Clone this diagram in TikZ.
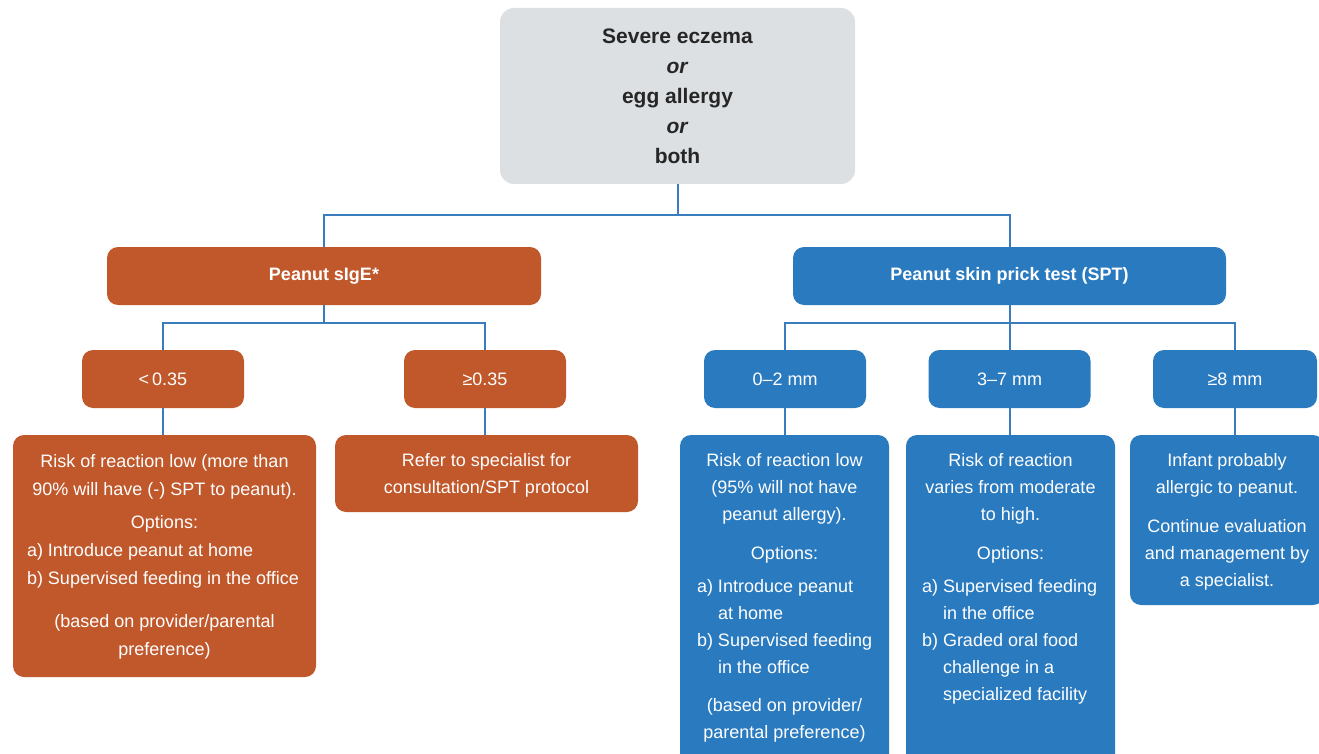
\documentclass[tikz,border=0pt]{standalone}
\usepackage{fontspec}
\setmainfont{Liberation Sans}
\definecolor{orng}{HTML}{C0582B}
\definecolor{blu}{HTML}{2A7ABF}
\definecolor{lineblue}{HTML}{3A7DBE}
\definecolor{gry}{HTML}{DDE0E3}
\definecolor{txtdark}{HTML}{262626}
\tikzset{
  conn/.style={draw=lineblue, line width=2pt, line join=miter},
  obox/.style={fill=orng, rounded corners=11pt, inner sep=0pt, text=white},
  bbox/.style={fill=blu, rounded corners=11pt, inner sep=0pt, text=white},
  gbox/.style={fill=gry, rounded corners=14pt, inner sep=0pt, text=txtdark},
  headbox/.style={minimum height=58pt, font=\bfseries\fontsize{18}{22}\selectfont},
  valbox/.style={minimum width=162pt, minimum height=58pt, font=\fontsize{18}{22}\selectfont},
}
\begin{document}
\begin{tikzpicture}[x=1pt,y=-1pt]
\useasboundingbox (0,0) rectangle (1319,754);
\fill[white] (0,0) rectangle (1319,754);
\clip (0,0) rectangle (1319,754);

% top
\node[gbox, minimum width=355pt, minimum height=176pt, align=center,
      font=\bfseries\fontsize{21}{30}\selectfont] (top) at (677.5,96)
  {Severe eczema\\\textit{or}\\egg allergy\\\textit{or}\\both};

% level 1
\node[obox, headbox, minimum width=434pt] (sige) at (324,276) {Peanut sIgE*};
\node[bbox, headbox, minimum width=433pt] (spt) at (1009.5,276) {Peanut skin prick test (SPT)};

% level 2
\node[obox, valbox] (lt) at (163,379) {<\,0.35};
\node[obox, valbox] (ge) at (485,379) {≥0.35};
\node[bbox, valbox] (z2) at (785,379) {0–2 mm};
\node[bbox, valbox] (t37) at (1009.5,379) {3–7 mm};
\node[bbox, valbox, minimum width=164pt] (g8) at (1235,379) {≥8 mm};

% level 3
\node[obox] (bigL) at (164.5,556) {\parbox[c][242pt][t]{303pt}{\parskip=0pt\fontsize{18}{28}\selectfont\centering
\rule{0pt}{32pt}Risk of reaction low (more than\\
90\% will have (-) SPT to peanut).\\[5pt]
Options:\par
\raggedright\leftskip=14pt
a) Introduce peanut at home\\
b) Supervised feeding in the office\par
\centering\vspace{15pt}
(based on provider/parental\\
preference)\par}};

\node[obox] (refer) at (486.5,473.5) {\parbox[c][77pt][t]{303pt}{\parskip=0pt\fontsize{18}{27}\selectfont\centering
\rule{0pt}{31pt}Refer to specialist for\\
consultation/SPT protocol\par}};

\node[bbox] (b1) at (784.5,612.5) {\parbox[c][355pt][t]{209pt}{\parskip=0pt\fontsize{18}{27}\selectfont\centering
\rule{0pt}{31pt}Risk of reaction low\\
(95\% will not have\\
peanut allergy).\\[12pt]
Options:\par\vspace{6pt}
\raggedright\leftskip=17pt
\makebox[21pt][l]{a)}Introduce peanut\\
\hspace*{21pt}at home\\
\makebox[21pt][l]{b)}Supervised feeding\\
\hspace*{21pt}in the office\par
\centering\vspace{11pt}
(based on provider/\\
parental preference)\par}};

\node[bbox] (b2) at (1010.5,612.5) {\parbox[c][355pt][t]{209pt}{\parskip=0pt\fontsize{18}{27}\selectfont\centering
\rule{0pt}{31pt}Risk of reaction\\
varies from moderate\\
to high.\\[12pt]
Options:\par\vspace{6pt}
\raggedright\leftskip=16pt
\makebox[21pt][l]{a)}Supervised feeding\\
\hspace*{21pt}in the office\\
\makebox[21pt][l]{b)}Graded oral food\\
\hspace*{21pt}challenge in a\\
\hspace*{21pt}specialized facility\par}};

\node[bbox] (b3) at (1227,520) {\parbox[c][170pt][t]{194pt}{\parskip=0pt\fontsize{18}{27}\selectfont\centering
\rule{0pt}{31pt}Infant probably\\
allergic to peanut.\\[12pt]
Continue evaluation\\
and management by\\
a specialist.\par}};

% connectors
\draw[conn] (top.south) -- ++(0,31) coordinate (j1);
\draw[conn] (sige.north) -- (sige.north |- j1) -- (spt.north |- j1) -- (spt.north);
\draw[conn] (sige.south) -- ++(0,18) coordinate (j2);
\draw[conn] (lt.north) -- (lt.north |- j2) -- (ge.north |- j2) -- (ge.north);
\draw[conn] (spt.south) -- (t37.north);
\path (spt.south) ++(0,18) coordinate (j3);
\draw[conn] (z2.north) -- (z2.north |- j3) -- (g8.north |- j3) -- (g8.north);
\draw[conn] (lt.south) -- (lt.south |- bigL.north);
\draw[conn] (ge.south) -- (ge.south |- refer.north);
\draw[conn] (z2.south) -- (z2.south |- b1.north);
\draw[conn] (t37.south) -- (t37.south |- b2.north);
\draw[conn] (g8.south) -- (g8.south |- b3.north);
\end{tikzpicture}
\end{document}
